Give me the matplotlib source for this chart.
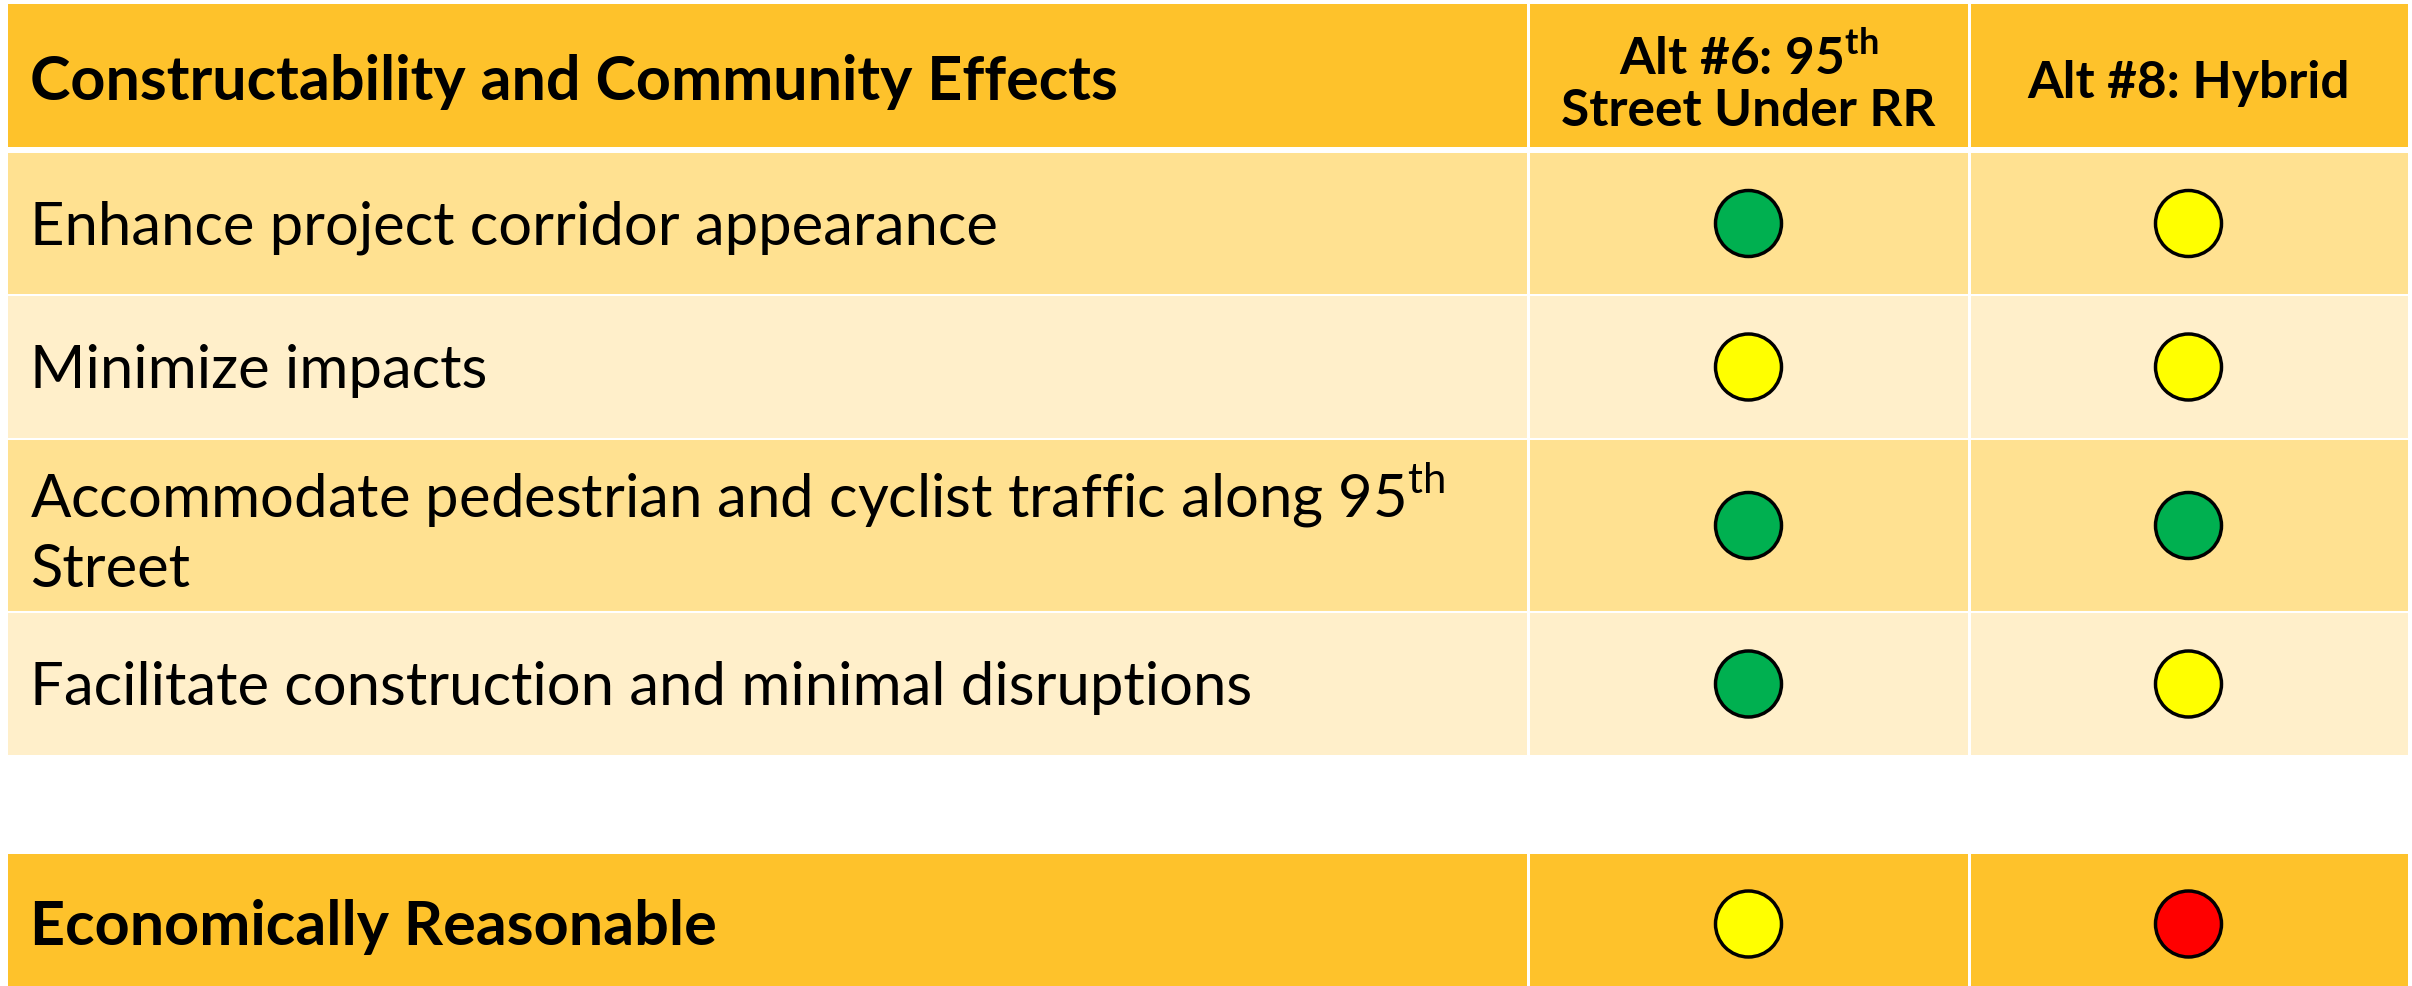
import matplotlib
matplotlib.use("Agg")
import matplotlib.pyplot as plt
from matplotlib.patches import Rectangle, Circle

# 데이터 ==========================================================
header_title = "Constructability and Community Effects"
alt_names = ["Alt #6: 95$^{\\mathbf{th}}$\nStreet Under RR", "Alt #8: Hybrid"]
criteria = [
    "Enhance project corridor appearance",
    "Minimize impacts",
    "Accommodate pedestrian and cyclist traffic along 95$^{\\mathrm{th}}$\nStreet",
    "Facilitate construction and minimal disruptions",
]
alt6_rating = ["green", "yellow", "green", "green"]
alt8_rating = ["yellow", "yellow", "green", "yellow"]
econ_label = "Economically Reasonable"
econ_rating = ["yellow", "red"]

rating_color = {"green": "#00B050", "yellow": "#FFFF00", "red": "#FF0000"}

# 레이아웃 =========================================================
W, H = 2412, 987
col_edges = [8, 1528, 1969, 2408]
header_rows = (5, 148)
body_rows = [(154, 295), (297, 439), (441, 612), (614, 756)]
econ_row = (855, 990)
gap = 3

c_header = "#FEC22B"
c_dark = "#FFE191"
c_light = "#FFEFCA"

plt.rcParams['font.family'] = ['Lato', 'DejaVu Sans']
plt.rcParams['mathtext.fontset'] = 'custom'
plt.rcParams['mathtext.rm'] = 'Lato'
plt.rcParams['mathtext.bf'] = 'Lato:bold'

fig = plt.figure(figsize=(W / 100, H / 100), dpi=100)
ax = fig.add_axes([0, 0, 1, 1])
ax.set_xlim(0, W)
ax.set_ylim(H, 0)
ax.axis('off')


def cells(y0, y1, color):
    for i in range(3):
        x0 = col_edges[i] + (gap / 2 if i > 0 else 0)
        x1 = col_edges[i + 1] - (gap / 2 if i < 2 else 0)
        ax.add_patch(Rectangle((x0, y0), x1 - x0, y1 - y0, facecolor=color, edgecolor='none'))


def dot(col, yc, rating):
    xc = (col_edges[col] + col_edges[col + 1]) / 2
    ax.add_patch(Circle((xc, yc), 33, facecolor=rating_color[rating], edgecolor='black', lw=2.5, zorder=3))


text_x = col_edges[0] + 22
body_fs = 43
bold_fs = 44

# 헤더
cells(header_rows[0], header_rows[1], c_header)
yc = sum(header_rows) / 2
ax.text(text_x, yc + 6, header_title, fontsize=bold_fs, fontweight='bold', va='center', ha='left')
for i, name in enumerate(alt_names):
    xc = (col_edges[i + 1] + col_edges[i + 2]) / 2
    ax.text(xc, yc + 7, name, fontsize=37, fontweight='bold', va='center', ha='center',
            multialignment='center', linespacing=1.12)

# 본문
for k, (y0, y1) in enumerate(body_rows):
    cells(y0, y1, c_dark if k % 2 == 0 else c_light)
    yc = (y0 + y1) / 2
    ax.text(text_x, yc + 3, criteria[k], fontsize=body_fs, va='center', ha='left', linespacing=1.3)
    dot(1, yc, alt6_rating[k])
    dot(2, yc, alt8_rating[k])

# 경제성
cells(econ_row[0], econ_row[1], c_header)
yc = (econ_row[0] + H) / 2 + 4
ax.text(text_x, yc + 2, econ_label, fontsize=bold_fs, fontweight='bold', va='center', ha='left')
dot(1, yc, econ_rating[0])
dot(2, yc, econ_rating[1])

fig.savefig('out.png', dpi=100, facecolor='white')
